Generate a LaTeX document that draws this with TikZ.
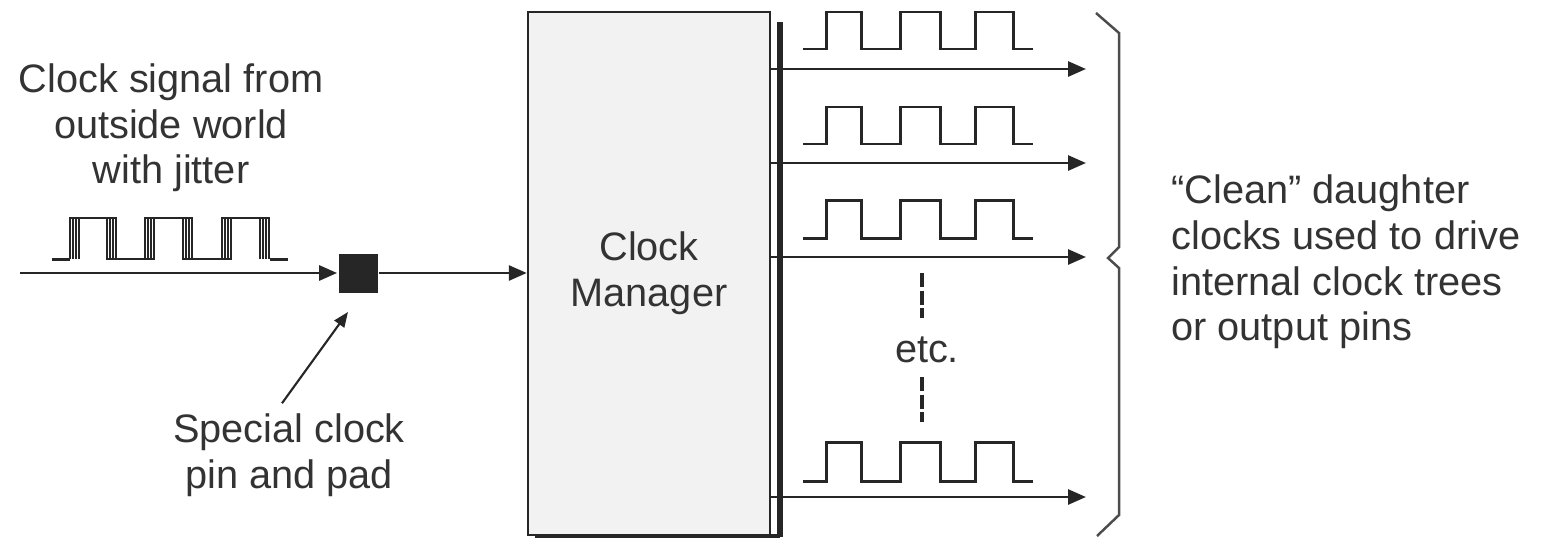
\documentclass[tikz,border=0pt]{standalone}
\usepackage{fontspec}
\setmainfont{Liberation Sans}
\usetikzlibrary{arrows.meta,positioning,calc}

\begin{document}
\begin{tikzpicture}[>={Triangle[length=0.18cm,width=0.15cm]},line width=0.8pt,font=\fontsize{11.3}{13}\selectfont,t/.style={align=center,inner sep=0pt,text=black!80},w/.style={line width=0.85pt,black!85},m/.style={draw=black!85,rectangle,fill=gray!10,minimum width=2.42cm,minimum height=5.23cm,inner sep=0pt,line width=0.7pt,align=center,text=black!80}]
\useasboundingbox (0,0) rectangle (15.45,5.39);
\node[m] (CM) at (6.49,2.655) {Clock\\Manager};
\node[fill=black!85,minimum size=0.39cm,inner sep=0pt] (P) at (3.58,2.66) {};
\node[t] (J) at (1.71,4.11) {Clock signal from\\outside world\\with jitter};
\node[t] (L) at (2.89,0.84) {Special clock\\pin and pad};
\node[t] (E) at (9.27,1.89) {etc.};
\node[t,anchor=west,align=left] (D) at (11.70,2.77) {“Clean” daughter\\clocks used to drive\\internal clock trees\\or output pins};
\coordinate (S) at (0.20,2.66);
\coordinate (pt) at (3.48,2.27);
\coordinate (t1) at (10.86,4.70);
\coordinate (t2) at (10.86,3.76);
\coordinate (t3) at (10.86,2.82);
\coordinate (t4) at (10.86,0.42);
% shadow of the manager block
\draw[black!85,line width=1.7pt] (7.80,5.17) -- (7.80,0.02);
\draw[black!85,line width=1.1pt] (5.35,0.03) -- (7.80,0.03);
\draw[->,black!85] (S)--(P);
\draw[->,black!85] (P)--(P-|CM.west);
\draw[->,black!85,line width=0.6pt,>={Triangle[length=0.15cm,width=0.12cm]}] ([xshift=-0.07cm,yshift=0.09cm]L.north)--(pt);
\draw[->,black!85] (CM.east|-t1)--(t1);
\draw[->,black!85] (CM.east|-t2)--(t2);
\draw[->,black!85] (CM.east|-t3)--(t3);
\draw[->,black!85] (CM.east|-t4)--(t4);
% input clock with jitter
\draw[w] (0.52,2.80) -- (0.70,2.80);
\draw[w] (2.70,2.80) -- (2.88,2.80);
\foreach \d in {0,0.03,0.06,0.09}
  \draw[w,line width=0.7pt,xshift=\d cm] (0.70,2.80) |- (1.07,3.21) |- (1.45,2.80) |- (1.83,3.21) |- (2.22,2.80) |- (2.60,3.21) -- (2.60,2.80);
% clean clocks
\draw[w] (8.03,4.90) -- ++(0.23,0) -- ++(0,0.37) -- ++(0.35,0) -- ++(0,-0.37) -- ++(0.39,0) -- ++(0,0.37) -- ++(0.40,0) -- ++(0,-0.37) -- ++(0.35,0) -- ++(0,0.37) -- ++(0.38,0) -- ++(0,-0.37) -- ++(0.20,0);
\draw[w] (8.03,3.95) -- ++(0.23,0) -- ++(0,0.37) -- ++(0.35,0) -- ++(0,-0.37) -- ++(0.39,0) -- ++(0,0.37) -- ++(0.40,0) -- ++(0,-0.37) -- ++(0.35,0) -- ++(0,0.37) -- ++(0.38,0) -- ++(0,-0.37) -- ++(0.20,0);
\draw[w] (8.03,3.01) -- ++(0.23,0) -- ++(0,0.38) -- ++(0.35,0) -- ++(0,-0.38) -- ++(0.39,0) -- ++(0,0.38) -- ++(0.40,0) -- ++(0,-0.38) -- ++(0.35,0) -- ++(0,0.38) -- ++(0.38,0) -- ++(0,-0.38) -- ++(0.20,0);
\draw[w] (8.03,0.58) -- ++(0.23,0) -- ++(0,0.39) -- ++(0.35,0) -- ++(0,-0.39) -- ++(0.39,0) -- ++(0,0.39) -- ++(0.40,0) -- ++(0,-0.39) -- ++(0.35,0) -- ++(0,0.39) -- ++(0.38,0) -- ++(0,-0.39) -- ++(0.20,0);
\draw[black!85,line width=1pt,dash pattern=on 0.14cm off 0.035cm] (9.22,2.66) -- (9.22,2.21);
\draw[black!85,line width=1pt,dash pattern=on 0.14cm off 0.035cm] (9.22,1.62) -- (9.22,1.17);
% brace
\draw[gray!60!black,line width=0.7pt] (10.96,5.26) -- (11.19,5.06) -- (11.19,2.92) -- (11.08,2.81) -- (11.19,2.71) -- (11.19,0.24) -- (10.97,0.03);
\end{tikzpicture}
\end{document}
